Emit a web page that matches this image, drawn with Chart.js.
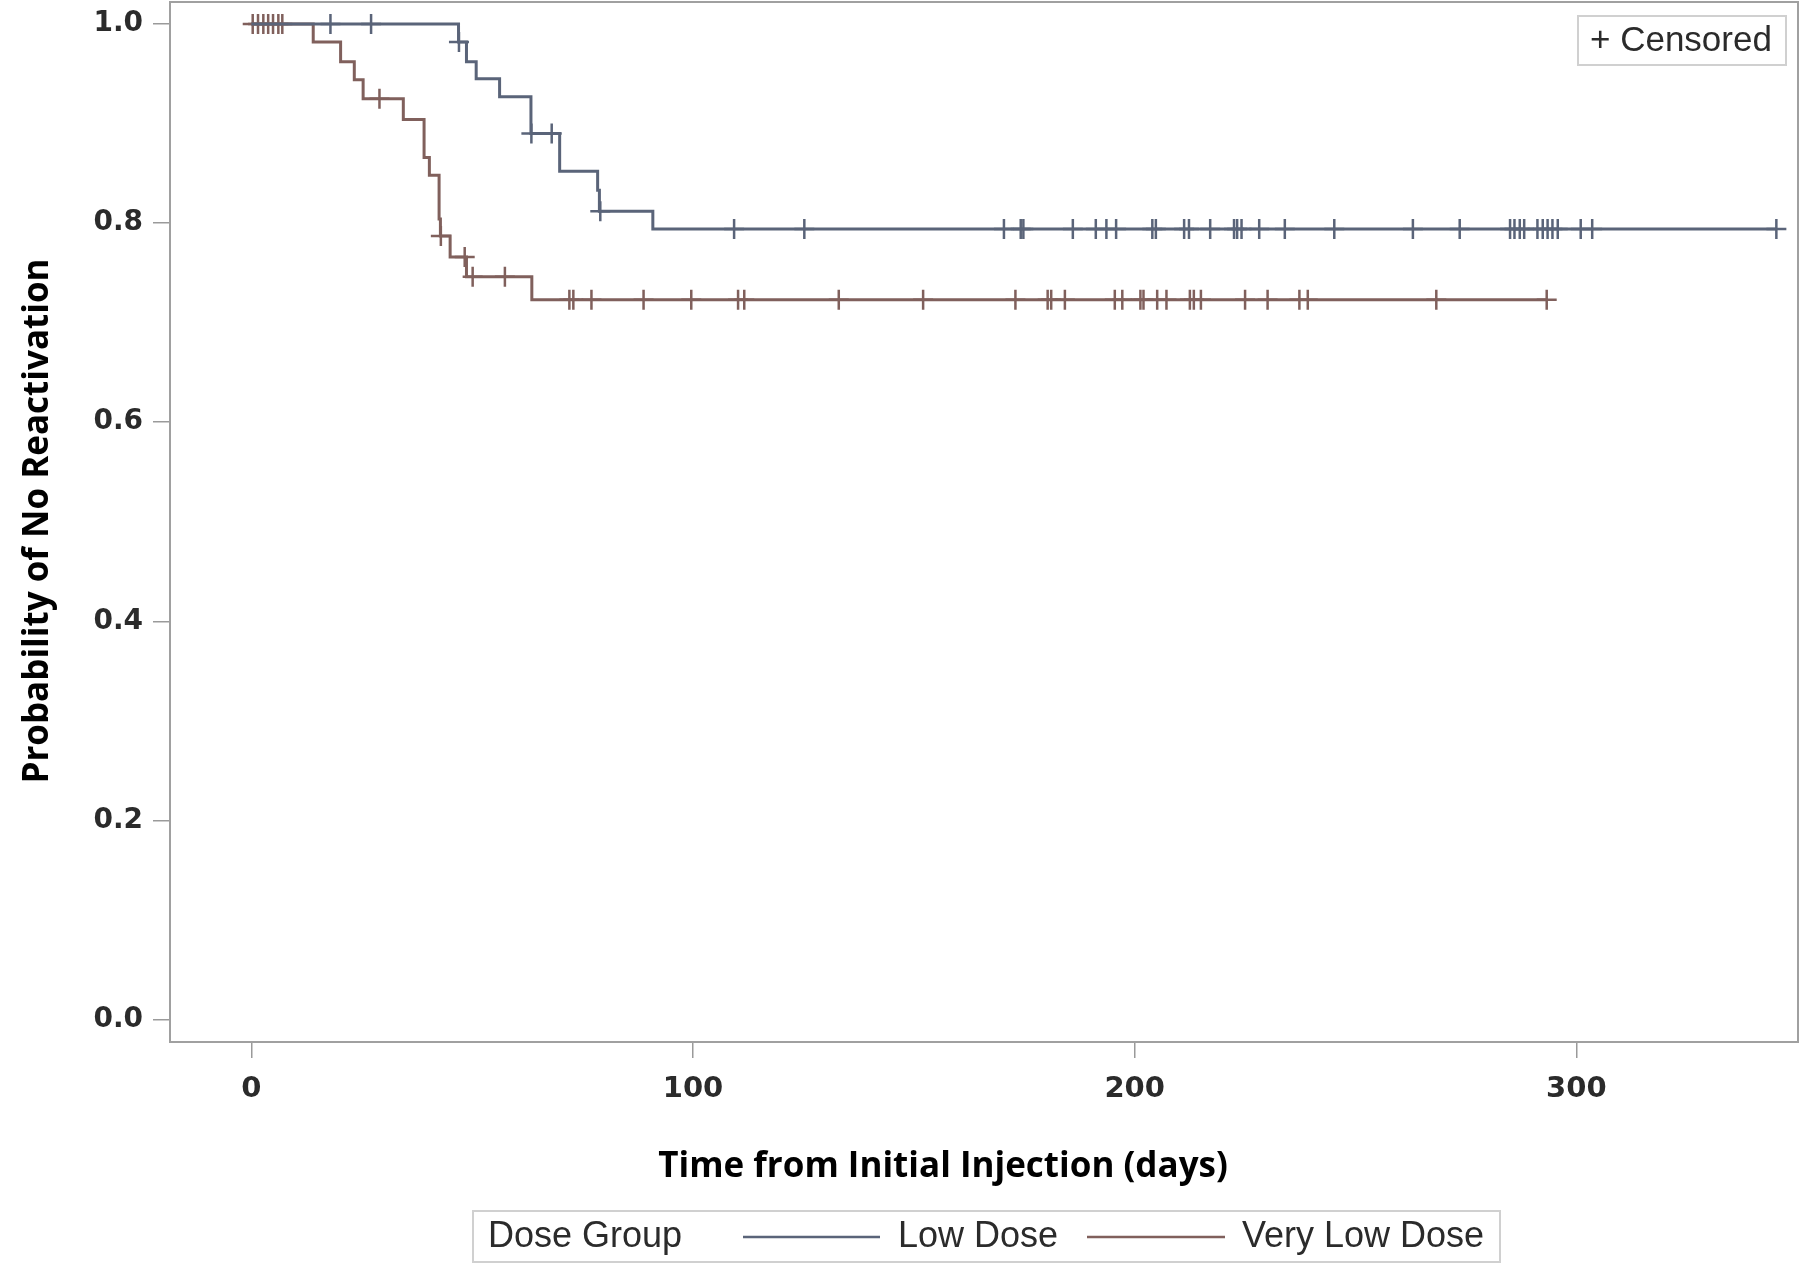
<!DOCTYPE html>
<html>
<head>
<meta charset="utf-8">
<script src="https://cdn.jsdelivr.net/npm/chart.js@4.4.0/dist/chart.umd.min.js"></script>
<style>
  html, body { margin: 0; padding: 0; background: #fff; }
  #wrap { width: 1800px; height: 1279px; }
</style>
</head>
<body>
<div id="wrap"><canvas id="kmChart" width="1800" height="1279"></canvas></div>
<script>
// Axis tick labels
const xTicks = [0, 100, 200, 300];
const yTicks = [0.0, 0.2, 0.4, 0.6, 0.8, 1.0];

// Low Dose: step times (days) and survival after each step
const lowTimes = [0, 46.9, 48.7, 50.9, 56.2, 63.3, 69.8, 78.4, 78.8, 90.9];
const lowSurv = [1.0, 0.982, 0.962, 0.945, 0.927, 0.890, 0.852, 0.833, 0.812, 0.794];
const lowLast = 345.3;
const lowCensored = [17.9, 27.1, 47.0, 63.4, 68.0, 79.0, 109.3, 125.2, 170.4, 174.2,
  174.8, 186.0, 191.2, 193.6, 195.8, 204.0, 204.8, 211.2, 212.3, 217.1, 222.5, 223.2,
  224.2, 228.2, 234.0, 245.2, 263.0, 273.6, 285.0, 286.0, 287.2, 288.2, 291.2, 292.4,
  293.5, 294.6, 295.8, 301.0, 303.6, 345.3];

// Very Low Dose
const vlowTimes = [0, 14.0, 20.2, 23.3, 25.3, 34.4, 39.1, 40.3, 42.5, 42.8, 45.0, 48.7, 63.5];
const vlowSurv = [1.0, 0.982, 0.962, 0.944, 0.925, 0.904, 0.866, 0.848, 0.804, 0.787, 0.766, 0.746, 0.723];
const vlowLast = 293.3;
const vlowCensored = [0.3, 1.5, 2.7, 3.8, 4.9, 6.1, 7.0, 29.0, 42.9, 48.3, 50.1, 57.4,
  72.0, 72.9, 77.0, 88.8, 99.6, 110.2, 111.6, 133.0, 152.1, 173.0, 180.3, 181.1, 184.2,
  195.5, 197.2, 201.3, 202.0, 205.1, 207.2, 212.5, 213.4, 215.0, 225.0, 230.1, 237.3,
  239.2, 268.3, 293.3];

const LOW_COLOR = "#5a6479";
const VLOW_COLOR = "#80605c";
const TEXT_COLOR = "#2b2b2b";

// KM step line: (t, S) points plus a point at the last follow-up
function stepPoints(times, surv, last) {
  const pts = times.map((t, i) => ({ x: t, y: surv[i] }));
  pts.push({ x: last, y: surv[surv.length - 1] });
  return pts;
}

// survival level in effect at time t
function survAt(times, surv, t) {
  let s = surv[0];
  times.forEach((et, i) => {
    if (et <= t) s = surv[i];
  });
  return s;
}

function censorPoints(times, surv, censored) {
  return censored.map((t) => ({ x: t, y: survAt(times, surv, t) }));
}

function lineSet(label, data, color) {
  return {
    label: label,
    data: data,
    stepped: true,
    borderColor: color,
    borderWidth: 3,
    pointRadius: 0,
    fill: false,
  };
}

function censorSet(label, data, color) {
  return {
    label: label,
    data: data,
    showLine: false,
    pointStyle: "cross",
    pointRadius: 10,
    pointBorderWidth: 2.5,
    pointBorderColor: color,
    borderColor: color,
  };
}

// frame, axis titles, legends
const decorPlugin = {
  id: "decor",
  beforeDraw(chart) {
    const ctx = chart.ctx;
    ctx.save();
    ctx.fillStyle = "#fff";
    ctx.fillRect(0, 0, chart.width, chart.height);
    ctx.restore();
  },
  afterDraw(chart) {
    const ctx = chart.ctx;
    const ca = chart.chartArea;
    ctx.save();

    // plot frame
    ctx.strokeStyle = "#a0a0a0";
    ctx.lineWidth = 2;
    ctx.strokeRect(ca.left, ca.top, ca.right - ca.left, ca.bottom - ca.top);

    // axis titles
    ctx.fillStyle = "#000";
    ctx.font = 'bold 35px "Open Sans"';
    ctx.textAlign = "center";
    ctx.textBaseline = "middle";
    ctx.fillText("Time from Initial Injection (days)", 943, 1167);
    ctx.save();
    ctx.translate(38, 521);
    ctx.rotate(-Math.PI / 2);
    ctx.fillText("Probability of No Reactivation", 0, 0);
    ctx.restore();

    // censored inset
    ctx.strokeStyle = "#d0d0d0";
    ctx.lineWidth = 2;
    ctx.strokeRect(1578, 16, 208, 49);
    ctx.fillStyle = TEXT_COLOR;
    ctx.font = '35px "Liberation Sans"';
    ctx.textAlign = "left";
    ctx.fillText("+ Censored", 1590, 41);

    // dose group legend
    ctx.strokeStyle = "#d0d0d0";
    ctx.strokeRect(473, 1211, 1027, 51);
    ctx.font = '36px "Liberation Sans"';
    ctx.fillText("Dose Group", 488, 1237);
    ctx.lineWidth = 2.5;
    ctx.strokeStyle = LOW_COLOR;
    ctx.beginPath();
    ctx.moveTo(743, 1237);
    ctx.lineTo(880, 1237);
    ctx.stroke();
    ctx.fillText("Low Dose", 898, 1237);
    ctx.strokeStyle = VLOW_COLOR;
    ctx.beginPath();
    ctx.moveTo(1087, 1237);
    ctx.lineTo(1225, 1237);
    ctx.stroke();
    ctx.fillText("Very Low Dose", 1242, 1237);

    ctx.restore();
  },
};

function noLabelPadding(scale) {
  scale.paddingTop = 0;
  scale.paddingBottom = 0;
  scale.paddingLeft = 0;
  scale.paddingRight = 0;
}

const ctx = document.getElementById("kmChart").getContext("2d");
new Chart(ctx, {
  type: "line",
  data: {
    datasets: [
      lineSet("Low Dose", stepPoints(lowTimes, lowSurv, lowLast), LOW_COLOR),
      lineSet("Very Low Dose", stepPoints(vlowTimes, vlowSurv, vlowLast), VLOW_COLOR),
      censorSet("Low Dose censored", censorPoints(lowTimes, lowSurv, lowCensored), LOW_COLOR),
      censorSet("Very Low Dose censored", censorPoints(vlowTimes, vlowSurv, vlowCensored), VLOW_COLOR),
    ],
  },
  options: {
    responsive: false,
    animation: false,
    devicePixelRatio: 1,
    layout: { autoPadding: false, padding: { top: 2, right: 2, left: 0, bottom: 0 } },
    plugins: {
      legend: { display: false },
      tooltip: { enabled: false },
    },
    scales: {
      x: {
        type: "linear",
        min: -18.43,
        max: 350.2,
        afterBuildTicks: (axis) => {
          axis.ticks = xTicks.map((v) => ({ value: v }));
        },
        afterFit: (scale) => {
          scale.height = 237;
          noLabelPadding(scale);
        },
        grid: {
          drawOnChartArea: false,
          drawTicks: true,
          tickLength: 16,
          color: "#9a9a9a",
          lineWidth: 1.5,
        },
        border: { display: false },
        ticks: {
          padding: 14,
          maxRotation: 0,
          color: TEXT_COLOR,
          font: { family: "DejaVu Sans", size: 29, weight: "bold" },
          callback: (v) => String(v),
        },
      },
      y: {
        type: "linear",
        min: -0.0226,
        max: 1.0221,
        afterBuildTicks: (axis) => {
          axis.ticks = yTicks.map((v) => ({ value: v }));
        },
        afterFit: (scale) => {
          scale.width = 170;
          noLabelPadding(scale);
        },
        grid: {
          drawOnChartArea: false,
          drawTicks: true,
          tickLength: 17,
          color: "#9a9a9a",
          lineWidth: 1.5,
        },
        border: { display: false },
        ticks: {
          padding: 10,
          color: TEXT_COLOR,
          font: { family: "DejaVu Sans", size: 28, weight: "bold" },
          callback: (v) => v.toFixed(1),
        },
      },
    },
  },
  plugins: [decorPlugin],
});
</script>
</body>
</html>
